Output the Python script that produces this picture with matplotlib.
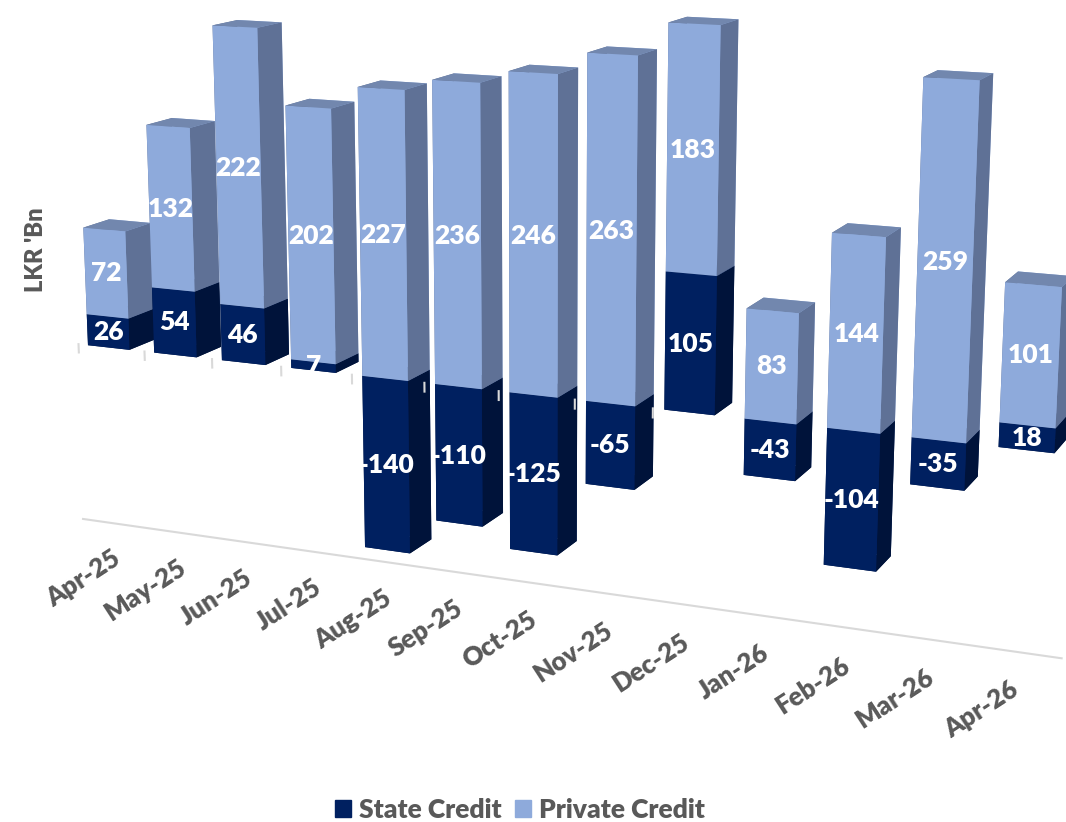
import numpy as np
import matplotlib
matplotlib.use('Agg')
import matplotlib.pyplot as plt
from matplotlib.patches import Patch
from mpl_toolkits.mplot3d import Axes3D, proj3d

months = ['Apr-25', 'May-25', 'Jun-25', 'Jul-25', 'Aug-25', 'Sep-25', 'Oct-25',
          'Nov-25', 'Dec-25', 'Jan-26', 'Feb-26', 'Mar-26', 'Apr-26']
state_credit = [26, 54, 46, 7, -140, -110, -125, -65, 105, -43, -104, -35, 18]
private_credit = [72, 132, 222, 202, 227, 236, 246, 263, 183, 83, 144, 259, 101]

plt.rcParams['font.family'] = ['Lato', 'DejaVu Sans']
grey = '#595959'
bar_w = 0.63

# face order in bar3d: -Z, +Z, -Y, +Y, -X, +X
state_faces = ['#001540', '#00194d', '#002060', '#002060', '#001540', '#00133a']
private_faces = ['#5f7196', '#7287ae', '#8eaadb', '#8eaadb', '#5f7196', '#5f7196']

fig = plt.figure(figsize=(10.66, 8.22), dpi=100)
size = 1300
cx, cy = 526, 311
ax = fig.add_axes([(cx - size / 2) / 1066, (822 - cy - size / 2) / 822, size / 1066, size / 822],
                  projection='3d')
ax.set_proj_type('persp', focal_length=0.37)
ax.view_init(elev=12.7, azim=-66.6)
ax.set_xlim(-0.5, 12.5)
ax.set_ylim(0, 1)
ax.set_zlim(-150, 300)
ax.set_box_aspect((1104, 52, 607), zoom=0.92)
ax.set_axis_off()


def label_at(x, z, s, **kw):
    # project to 2D first, 3D text ignores rotation
    px, py, _ = proj3d.proj_transform(x, 0, z, ax.get_proj())
    ax.text2D(px, py, s, fontweight='heavy', zorder=1000, **kw)


xs, bottoms, heights, colors = [], [], [], []
for i, (s, p) in enumerate(zip(state_credit, private_credit)):
    xs += [i - bar_w / 2, i - bar_w / 2]
    bottoms += [min(s, 0), max(s, 0)]
    heights += [abs(s), p]
    colors += state_faces + private_faces
    label_at(i, s / 2, str(s), color='white', fontsize=19, ha='center', va='center')
    label_at(i, max(s, 0) + p / 2, str(p), color='white', fontsize=19, ha='center', va='center')
    label_at(i - 0.08, -170, months[i], color=grey, fontsize=18.5,
             rotation=33, ha='right', va='top', rotation_mode='anchor')

ax.bar3d(xs, 0, bottoms, bar_w, 1, heights, color=colors, shade=False)

ax.plot([-0.5, 12.5], [0, 0], [-150, -150], color='#d9d9d9', lw=1.5, zorder=1000)
for i in range(9):
    ax.plot([i - 0.46, i - 0.46], [0, 0], [0, -7], color='#d9d9d9', lw=1.5, zorder=1000)

fig.text(36 / 1066, 1 - 250 / 822, "LKR 'Bn", rotation=90, color=grey, fontsize=17,
         fontweight='heavy', ha='center', va='center')
handles = [Patch(color='#002060', label='State Credit'), Patch(color='#8eaadb', label='Private Credit')]
fig.legend(handles=handles, loc='center', bbox_to_anchor=(520 / 1066, 1 - 810 / 822), ncol=2,
           frameon=False, handlelength=0.62, handleheight=0.62, handletextpad=0.3, columnspacing=0.5,
           labelcolor=grey, prop={'size': 19, 'weight': 'heavy'})

fig.savefig('out.png', dpi=100)
